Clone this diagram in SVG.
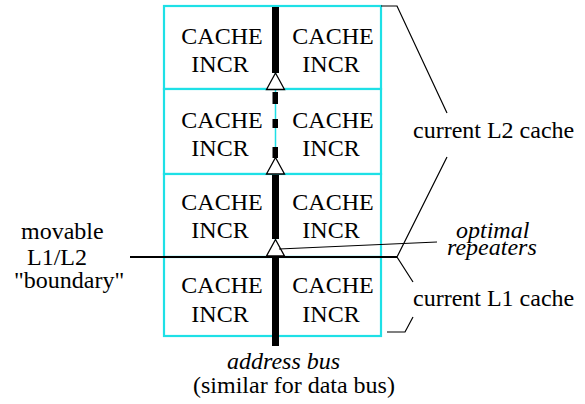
<svg xmlns="http://www.w3.org/2000/svg" width="585" height="404" viewBox="0 0 585 404">
<defs>
<polygon id="rep" points="0,0 -9,16.5 9,16.5" fill="#fff" stroke="#000" stroke-width="1.3"/>
</defs>
<rect width="585" height="404" fill="#fff"/>
<g id="cache-grid" fill="#fff" stroke="#1ee0e6" stroke-width="2.2">
<rect x="164" y="6" width="217" height="83"/>
<rect x="164" y="89" width="217" height="85"/>
<rect x="164" y="174" width="217" height="83"/>
<rect x="164" y="257" width="217" height="79"/>
<line x1="275.5" y1="6" x2="275.5" y2="336" stroke-width="1.5"/>
</g>
<g id="cells" font-family="serif" font-size="24" text-anchor="middle">
<g id="r1l"><text x="222" y="44">CACHE</text><text x="220" y="72">INCR</text></g>
<g id="r1r"><text x="333" y="44">CACHE</text><text x="331" y="72">INCR</text></g>
<g id="r2l"><text x="222" y="128">CACHE</text><text x="220" y="156">INCR</text></g>
<g id="r2r"><text x="333" y="128">CACHE</text><text x="331" y="156">INCR</text></g>
<g id="r3l"><text x="222" y="210">CACHE</text><text x="220" y="238">INCR</text></g>
<g id="r3r"><text x="333" y="210">CACHE</text><text x="331" y="238">INCR</text></g>
<g id="r4l"><text x="222" y="293">CACHE</text><text x="220" y="322">INCR</text></g>
<g id="r4r"><text x="333" y="293">CACHE</text><text x="331" y="322">INCR</text></g>
</g>
<g id="bus" fill="#000">
<rect x="272" y="7" width="7" height="66"/>
<rect x="272.5" y="92" width="5.5" height="12"/>
<rect x="272.5" y="119" width="5.5" height="9"/>
<rect x="272.5" y="147" width="5.5" height="11"/>
<rect x="272" y="175" width="7" height="64"/>
<rect x="272" y="257" width="7" height="89"/>
</g>
<g id="repeaters">
<use href="#rep" x="275.5" y="73"/>
<use href="#rep" x="275.5" y="157.5"/>
<use href="#rep" x="275.5" y="239.5"/>
</g>
<g id="connectors" stroke="#000" stroke-width="1.2" fill="none">
<line x1="130" y1="257" x2="397" y2="257" stroke-width="2"/>
<polyline points="381,6 397,6 447,113"/>
<polyline points="447,157 397,257 413,282"/>
<polyline points="413,317 405,332 387,332"/>
<line x1="279" y1="249" x2="437" y2="242"/>
</g>
<g id="labels" font-family="serif" font-size="24">
<text x="21" y="239">movable</text>
<text x="27" y="265">L1/L2</text>
<text x="14" y="288">"boundary"</text>
<text x="413" y="138">current L2 cache</text>
<text x="413" y="306">current L1 cache</text>
<text x="456" y="238" font-style="italic">optimal</text>
<text x="447" y="255" font-style="italic">repeaters</text>
<text x="227" y="369" font-style="italic">address bus</text>
<text x="193" y="393">(similar for data bus)</text>
</g>
</svg>
